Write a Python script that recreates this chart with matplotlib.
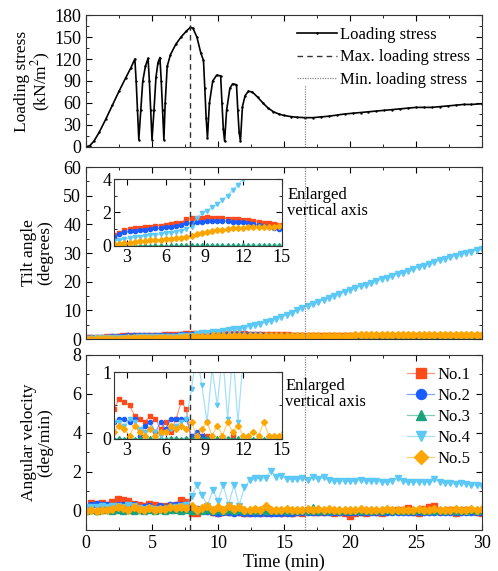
import numpy as np
import matplotlib
matplotlib.use('Agg')
import matplotlib.pyplot as plt
from matplotlib.ticker import MultipleLocator
from matplotlib.colors import to_rgba

plt.rcParams['font.family'] = ['Liberation Serif', 'DejaVu Serif']
plt.rcParams['mathtext.fontset'] = 'stix'
plt.rcParams['font.size'] = 13

T_MAX_STRESS = 7.9
T_MIN_STRESS = 16.6

# loading stress (time in min, stress in kN/m2)
stress_t = [0.0, 0.3, 0.6, 1.0, 1.5, 2.0, 2.5, 3.0, 3.4, 3.7,
            3.8, 3.9, 4.0, 4.15, 4.3, 4.5, 4.7,
            4.8, 4.9, 5.0, 5.15, 5.3, 5.45, 5.6,
            5.7, 5.8, 5.9, 6.0, 6.15, 6.4, 6.8, 7.2, 7.6, 7.9, 8.1,
            8.4, 8.7, 8.9, 9.0, 9.1, 9.2, 9.35, 9.6, 9.9, 10.2,
            10.3, 10.4, 10.5, 10.65, 10.9, 11.1, 11.4, 11.5, 11.6, 11.7,
            11.85, 12.05, 12.3, 12.6, 13.0, 13.4, 13.8, 14.2, 14.6, 15.0,
            15.5, 16.0, 16.6, 17.2, 17.8, 18.4, 19.0, 19.6, 20.2, 20.8,
            21.4, 22.0, 22.6, 23.2, 23.8, 24.4, 25.0, 25.6, 26.2, 26.8,
            27.4, 28.0, 28.6, 29.2, 30.0]
stress_v = [0, 2, 8, 20, 38, 57, 76, 94, 108, 120,
            90, 50, 10, 50, 90, 110, 121,
            90, 50, 10, 50, 95, 115, 122,
            90, 50, 10, 60, 110, 126, 140, 150, 158, 163, 162,
            150, 128, 118, 80, 40, 12, 60, 90, 98, 97,
            60, 25, 8, 50, 80, 86, 85, 50, 20, 8,
            55, 70, 76, 75, 68, 60, 53, 48, 45, 43,
            41.5, 40.5, 40, 40, 41, 42, 43.5, 45, 46, 47,
            48, 49, 50, 51, 52, 53, 54, 54, 54, 55,
            56, 57, 58, 58, 59]

# sensor time grid (min)
time = np.arange(0, 30.01, 0.4)

tilt_no1 = [0.30, 0.40, 0.45, 0.50, 0.55, 0.65, 0.80, 0.95, 1.00, 1.05,
            1.10, 1.12, 1.15, 1.20, 1.22, 1.25, 1.30, 1.35, 1.40, 1.60,
            1.65, 1.62, 1.70, 1.72, 1.70, 1.68, 1.66, 1.64, 1.60, 1.60,
            1.58, 1.55, 1.50, 1.45, 1.40, 1.35, 1.32, 1.28, 1.25, 1.22,
            1.20, 1.19, 1.18, 1.17, 1.16, 1.15, 1.14, 1.13, 1.12, 1.11,
            1.10, 1.10, 1.09, 1.09, 1.08, 1.08, 1.07, 1.07, 1.06, 1.06,
            1.05, 1.05, 1.05, 1.04, 1.04, 1.04, 1.03, 1.03, 1.03, 1.02,
            1.02, 1.02, 1.01, 1.01, 1.00, 1.00]
tilt_no2 = [0.20, 0.28, 0.35, 0.40, 0.45, 0.55, 0.70, 0.82, 0.88, 0.92,
            0.95, 0.98, 1.02, 1.05, 1.08, 1.12, 1.15, 1.20, 1.25, 1.35,
            1.40, 1.42, 1.45, 1.48, 1.50, 1.50, 1.50, 1.48, 1.46, 1.45,
            1.42, 1.38, 1.32, 1.25, 1.18, 1.12, 1.06, 1.00, 0.96, 0.92,
            0.90, 0.88, 0.86, 0.84, 0.82, 0.80, 0.78, 0.76, 0.74, 0.72,
            0.70, 0.69, 0.68, 0.67, 0.66, 0.65, 0.64, 0.63, 0.62, 0.61,
            0.60, 0.60, 0.59, 0.59, 0.58, 0.58, 0.57, 0.57, 0.56, 0.56,
            0.55, 0.55, 0.54, 0.54, 0.53, 0.53]
tilt_no3 = [0.01, 0.01, 0.02, 0.01, 0.02, 0.02, 0.01, 0.02, 0.02, 0.02,
            0.02, 0.03, 0.02, 0.03, 0.03, 0.02, 0.03, 0.03, 0.03, 0.03,
            0.03, 0.03, 0.04, 0.03, 0.04, 0.04, 0.04, 0.03, 0.04, 0.04,
            0.04, 0.04, 0.04, 0.05, 0.04, 0.05, 0.05, 0.05, 0.05, 0.05,
            0.05, 0.05, 0.06, 0.05, 0.06, 0.06, 0.06, 0.06, 0.06, 0.06,
            0.06, 0.07, 0.06, 0.07, 0.07, 0.07, 0.07, 0.07, 0.07, 0.07,
            0.08, 0.07, 0.08, 0.08, 0.08, 0.08, 0.08, 0.08, 0.08, 0.09,
            0.08, 0.09, 0.09, 0.09, 0.09, 0.09]
tilt_no4 = [0.10, 0.14, 0.18, 0.22, 0.26, 0.30, 0.35, 0.42, 0.47, 0.51,
            0.55, 0.59, 0.63, 0.67, 0.71, 0.75, 0.79, 0.85, 0.92, 1.00,
            1.15, 1.70, 1.95, 2.10, 2.30, 2.50, 2.75, 3.00, 3.35, 3.65,
            4.00, 4.40, 4.80, 5.30, 5.80, 6.40, 7.00, 7.70, 8.40, 9.20,
            10.0, 10.8, 11.6, 12.3, 13.0, 13.7, 14.4, 15.1, 15.8, 16.5,
            17.2, 17.8, 18.4, 19.0, 19.6, 20.2, 20.8, 21.4, 22.0, 22.6,
            23.2, 23.8, 24.4, 25.0, 25.6, 26.2, 26.8, 27.4, 28.0, 28.5,
            29.0, 29.5, 30.0, 30.5, 31.0, 31.5]
tilt_no5 = [0.02, 0.04, 0.05, 0.06, 0.08, 0.10, 0.13, 0.17, 0.20, 0.24,
            0.27, 0.30, 0.33, 0.36, 0.38, 0.40, 0.43, 0.46, 0.50, 0.56,
            0.62, 0.70, 0.78, 0.85, 0.90, 0.94, 0.98, 1.02, 1.05, 1.08,
            1.10, 1.12, 1.13, 1.14, 1.15, 1.16, 1.16, 1.17, 1.18, 1.18,
            1.19, 1.19, 1.20, 1.20, 1.20, 1.21, 1.21, 1.21, 1.22, 1.22,
            1.22, 1.23, 1.23, 1.23, 1.24, 1.24, 1.24, 1.25, 1.25, 1.25,
            1.26, 1.26, 1.26, 1.27, 1.27, 1.27, 1.28, 1.28, 1.28, 1.29,
            1.29, 1.29, 1.30, 1.30, 1.30, 1.31]

vel_no1 = [0.10, 0.40, 0.35, 0.40, 0.30, 0.45, 0.60, 0.55, 0.50, 0.35,
           0.30, 0.25, 0.35, 0.30, 0.15, 0.25, 0.10, 0.30, 0.55, 0.45,
           -0.10, -0.10, 0.05, 0.05, -0.05, -0.10, 0.00, -0.05, 0.05, -0.05,
           -0.15, -0.10, -0.05, -0.10, -0.05, -0.10, -0.05, -0.10, 0.00, -0.10,
           -0.05, -0.10, 0.00, -0.05, -0.05, -0.05, 0.00, -0.10, -0.05, -0.15,
           -0.30, -0.10, -0.05, -0.10, 0.00, -0.05, -0.10, 0.00, 0.00, 0.05,
           0.00, 0.15, -0.05, -0.15, 0.10, 0.20, 0.25, 0.00, 0.00, 0.05,
           -0.10, 0.00, 0.05, 0.00, -0.05, -0.15]
vel_no2 = [0.15, 0.30, 0.35, 0.30, 0.30, 0.25, 0.30, 0.30, 0.25, 0.30,
           0.05, 0.20, 0.25, 0.10, 0.25, 0.15, 0.30, 0.30, 0.30, 0.30,
           0.05, 0.10, 0.05, 0.00, -0.05, -0.10, -0.05, -0.05, -0.10, -0.05,
           -0.10, -0.10, -0.15, -0.15, -0.15, -0.10, -0.10, -0.10, -0.10, -0.10,
           -0.08, -0.05, -0.08, -0.05, -0.08, -0.05, -0.08, -0.05, -0.08, -0.05,
           -0.08, -0.05, -0.08, -0.05, -0.08, -0.05, -0.08, -0.05, -0.08, -0.05,
           -0.08, -0.05, -0.08, -0.05, -0.08, -0.05, -0.08, -0.05, -0.08, -0.05,
           -0.08, -0.05, -0.08, -0.05, -0.08, -0.05]
vel_no3 = [0.00, 0.02, 0.00, 0.01, 0.02, 0.00, 0.01, 0.00, 0.02, 0.00,
           0.01, 0.00, 0.02, 0.00, 0.01, 0.00, 0.02, 0.01, 0.00, 0.02,
           0.00, 0.01, 0.00, 0.02, 0.00, 0.01, 0.00, 0.02, 0.00, 0.01,
           0.00, 0.02, 0.00, 0.01, 0.00, 0.02, 0.00, 0.01, 0.00, 0.02,
           0.00, 0.01, 0.00, 0.20, 0.00, 0.01, 0.00, 0.02, 0.00, 0.01,
           0.00, 0.02, 0.00, 0.01, 0.00, 0.02, 0.00, 0.01, 0.00, 0.02,
           0.00, 0.01, 0.00, 0.02, 0.00, 0.01, 0.00, 0.02, 0.00, 0.01,
           0.00, 0.02, 0.00, 0.01, 0.00, 0.02]
vel_no4 = [0.20, 0.20, 0.20, 0.25, 0.20, 0.25, 0.25, 0.20, 0.30, 0.25,
           0.15, 0.10, 0.15, 0.10, 0.05, 0.10, 0.15, 0.20, 0.25, 0.30,
           0.75, 1.30, 0.80, 0.25, 1.05, 0.50, 1.30, 0.30, 1.30, 0.25,
           1.20, 1.55, 1.65, 1.65, 1.65, 2.05, 1.75, 1.80, 1.60, 1.60,
           1.60, 1.65, 1.55, 1.70, 1.60, 1.70, 1.55, 1.50, 1.50, 1.50,
           1.50, 1.50, 1.55, 1.50, 1.50, 1.50, 1.45, 1.45, 1.50, 1.65,
           1.50, 1.45, 1.45, 1.45, 1.45, 1.45, 1.60, 1.45, 1.40, 1.40,
           1.35, 1.40, 1.35, 1.30, 1.30, 1.25]
vel_no5 = [0.00, 0.05, 0.00, 0.05, 0.05, 0.10, 0.20, 0.15, 0.05, 0.20,
           0.10, 0.05, 0.15, 0.05, 0.10, 0.10, 0.20, 0.15, 0.20, 0.15,
           0.25, 0.05, 0.15, 0.25, 0.05, 0.20, 0.05, 0.25, 0.10, 0.20,
           0.05, 0.05, 0.10, 0.05, 0.25, 0.05, 0.05, 0.05, 0.10, 0.05,
           0.05, 0.05, 0.10, 0.05, 0.10, 0.05, 0.10, 0.05, 0.05, 0.05,
           0.05, 0.05, 0.10, 0.05, 0.05, 0.05, 0.05, 0.10, 0.05, 0.05,
           0.05, 0.05, 0.05, 0.10, 0.05, 0.05, 0.10, 0.05, 0.05, 0.05,
           0.10, 0.05, 0.05, 0.10, 0.05, 0.10]

SENSORS = [
    ('No.1', '#FF4A1C', 's'),
    ('No.2', '#1A5CFF', 'o'),
    ('No.3', '#1AA37A', '^'),
    ('No.4', '#5BC8F5', 'v'),
    ('No.5', '#FFA500', 'D'),
]
tilt = [tilt_no1, tilt_no2, tilt_no3, tilt_no4, tilt_no5]
vel = [vel_no1, vel_no2, vel_no3, vel_no4, vel_no5]


def style_axis(ax):
    ax.tick_params(which='both', direction='in', top=True, right=True)
    ax.tick_params(which='major', length=4)
    ax.tick_params(which='minor', length=2)
    for s in ax.spines.values():
        s.set_linewidth(0.8)
        s.set_color('#333333')


def plot_sensors(ax, data, ms):
    for (label, color, marker), y in zip(SENSORS, data):
        ax.plot(time, y, color=to_rgba(color, 0.55), lw=0.9, marker=marker,
                ms=ms, mfc=color, mec=color, label=label)


fig = plt.figure(figsize=(4.98, 5.71), dpi=100)
L, W = 0.1727, 0.7952
ax1 = fig.add_axes([L, 0.7426, W, 0.2311])
ax2 = fig.add_axes([L, 0.4063, W, 0.3012])
ax3 = fig.add_axes([L, 0.0718, W, 0.3065])

# top panel: loading stress
ax1.plot(stress_t, stress_v, color='black', lw=1.2, marker='.', ms=1.5,
         label='Loading stress')
ax1.axvline(T_MAX_STRESS, color='#333333', lw=1.0, ls=(0, (4, 3)),
            label='Max. loading stress')
ax1.plot([T_MIN_STRESS, T_MIN_STRESS], [0, 85], color='#888888', lw=0.9,
         ls=(0, (1, 1)), label='Min. loading stress')
ax1.set_xlim(0, 30)
ax1.set_ylim(0, 180)
ax1.yaxis.set_major_locator(MultipleLocator(30))
ax1.yaxis.set_minor_locator(MultipleLocator(15))
ax1.xaxis.set_major_locator(MultipleLocator(5))
ax1.xaxis.set_minor_locator(MultipleLocator(2.5))
ax1.set_xticklabels([])
ax1.set_ylabel('Loading stress\n(kN/m$^2$)', fontsize=12.5, linespacing=1.0)
ax1.legend(loc='upper right', frameon=False, fontsize=12, handlelength=2.4,
           handletextpad=0.2, labelspacing=0.4, borderaxespad=0.3)
style_axis(ax1)

# middle panel: tilt angle
plot_sensors(ax2, tilt, 4.5)
ax2.axvline(T_MAX_STRESS, color='#333333', lw=1.0, ls=(0, (4, 3)))
ax2.axvline(T_MIN_STRESS, color='#888888', lw=0.9, ls=(0, (1, 1)))
ax2.set_xlim(0, 30)
ax2.set_ylim(0, 60)
ax2.yaxis.set_major_locator(MultipleLocator(10))
ax2.yaxis.set_minor_locator(MultipleLocator(5))
ax2.xaxis.set_major_locator(MultipleLocator(5))
ax2.xaxis.set_minor_locator(MultipleLocator(2.5))
ax2.set_xticklabels([])
ax2.set_ylabel('Tilt angle\n(degrees)', fontsize=12.5, linespacing=1.0)
style_axis(ax2)
fig.text(0.577, 0.672, 'Enlarged\nvertical axis', fontsize=12,
         linespacing=1.0, va='top', ha='left')

in2 = fig.add_axes([0.229, 0.5692, 0.337, 0.1173])
plot_sensors(in2, tilt, 3)
in2.axvline(T_MAX_STRESS, color='#333333', lw=1.0, ls=(0, (4, 3)))
in2.set_xlim(2, 15)
in2.set_ylim(0, 4)
in2.set_xticks([3, 6, 9, 12, 15])
in2.set_yticks([0, 2, 4])
in2.yaxis.set_minor_locator(MultipleLocator(1))
style_axis(in2)
in2.tick_params(axis='both', pad=2)

# bottom panel: angular velocity
plot_sensors(ax3, vel, 4.5)
ax3.axhline(0, color='#222222', lw=1.0, zorder=1.5)
ax3.axvline(T_MAX_STRESS, color='#333333', lw=1.0, ls=(0, (4, 3)))
ax3.axvline(T_MIN_STRESS, color='#888888', lw=0.9, ls=(0, (1, 1)))
ax3.set_xlim(0, 30)
ax3.set_ylim(-1, 8)
ax3.yaxis.set_major_locator(MultipleLocator(2))
ax3.yaxis.set_minor_locator(MultipleLocator(1))
ax3.xaxis.set_major_locator(MultipleLocator(5))
ax3.xaxis.set_minor_locator(MultipleLocator(2.5))
ax3.set_xlabel('Time (min)', fontsize=13, labelpad=1)
ax3.set_ylabel('Angular velocity\n(deg/min)', fontsize=12.5, linespacing=1.0)
ax3.legend(loc='upper right', frameon=False, fontsize=12, handlelength=1.6,
           handletextpad=0.2, labelspacing=0.3, borderaxespad=0.3,
           markerscale=1.6)
style_axis(ax3)
fig.text(0.573, 0.338, 'Enlarged\nvertical axis', fontsize=12,
         linespacing=1.0, va='top', ha='left')

in3 = fig.add_axes([0.229, 0.2312, 0.337, 0.1173])
plot_sensors(in3, vel, 3)
in3.axvline(T_MAX_STRESS, color='#333333', lw=1.0, ls=(0, (4, 3)))
in3.set_xlim(2, 15)
in3.set_ylim(0, 1)
in3.set_xticks([3, 6, 9, 12, 15])
in3.set_yticks([0, 1])
in3.yaxis.set_minor_locator(MultipleLocator(0.5))
style_axis(in3)
in3.tick_params(axis='both', pad=2)

for ax in (ax1, ax2, ax3):
    ax.yaxis.set_label_coords(-0.083, 0.5)

fig.savefig('out.png', dpi=100)
